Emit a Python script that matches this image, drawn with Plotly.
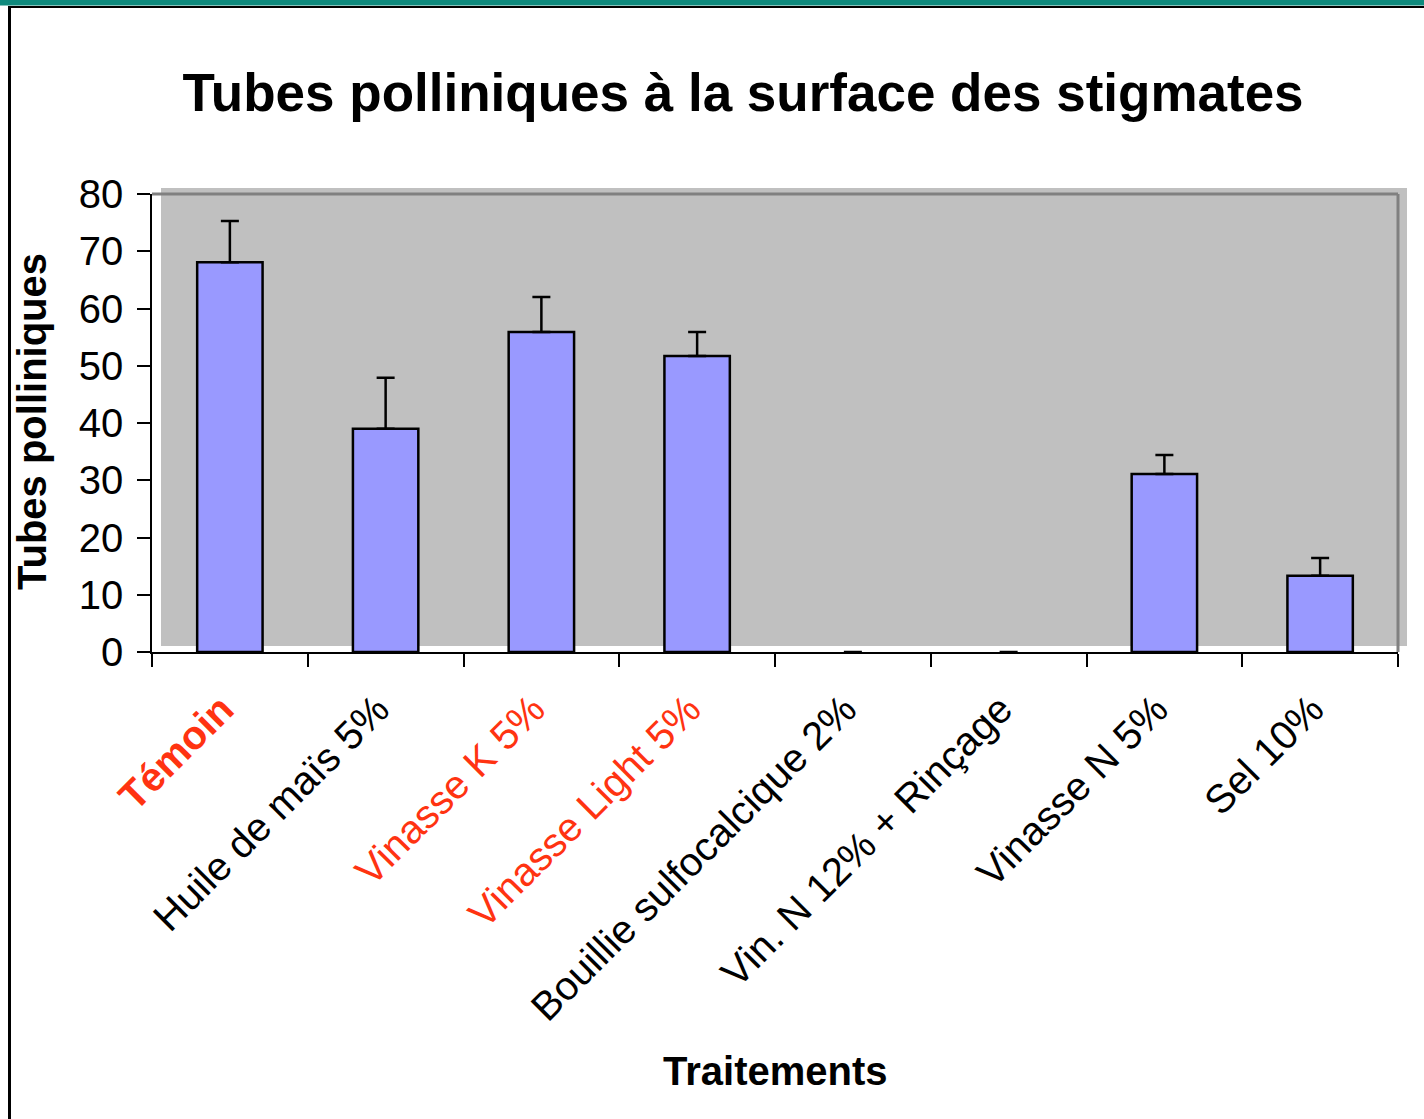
import plotly.graph_objects as go

categories = ["Témoin", "Huile de maïs 5%", "Vinasse K 5%", "Vinasse Light 5%",
              "Bouillie sulfocalcique 2%", "Vin. N 12% + Rinçage", "Vinasse N 5%", "Sel 10%"]
values = [68.1, 39.0, 55.9, 51.7, 0, 0, 31.1, 13.3]
errors = [7.2, 8.9, 6.1, 4.2, 0, 0, 3.3, 3.1]
tick_labels = ["<b>Témoin</b>", "Huile de maïs 5%", "Vinasse K 5%", "Vinasse Light 5%",
               "Bouillie sulfocalcique 2%", "Vin. N 12% + Rinçage", "Vinasse N 5%", "Sel 10%"]
label_colors = ["#FF3311", "black", "#FF3311", "#FF3311", "black", "black", "black", "black"]
y_ticks = [0, 10, 20, 30, 40, 50, 60, 70, 80]

W, H = 1424, 1119
L, R, T, B = 152, 1398, 194, 652

def px(x):
    return (x - L) / (R - L)

def py(y):
    return (B - y) / (B - T)

ticktext = [f"<span style='color:{c}'>{t}</span>" for t, c in zip(tick_labels, label_colors)]
outline_widths = [2.5 if v > 0 else 0 for v in values]

fig = go.Figure()
fig.add_trace(go.Bar(
    x=categories, y=values, width=0.42,
    marker=dict(color="#9999FF", line=dict(color="black", width=outline_widths)),
    error_y=dict(type="data", array=errors, arrayminus=[0]*len(errors), symmetric=False,
                 color="black", thickness=2.5, width=9),
))

shapes = [
    dict(type="rect", xref="paper", yref="paper", x0=px(161), x1=px(1407), y0=py(646), y1=py(188),
         fillcolor="#C0C0C0", line=dict(width=0), layer="below"),
    dict(type="line", xref="paper", yref="paper", x0=0, x1=1, y0=1, y1=1,
         line=dict(color="#808080", width=3), layer="below"),
    dict(type="line", xref="paper", yref="paper", x0=1, x1=1, y0=0, y1=1,
         line=dict(color="#808080", width=3), layer="below"),
    dict(type="rect", xref="paper", yref="paper", x0=px(0), x1=px(W), y0=py(0), y1=py(5.5),
         fillcolor="#0F8A7D", line=dict(width=0)),
    dict(type="line", xref="paper", yref="paper", x0=px(9), x1=px(W), y0=py(7), y1=py(7),
         line=dict(color="black", width=2)),
    dict(type="line", xref="paper", yref="paper", x0=px(9.5), x1=px(9.5), y0=py(6), y1=py(H),
         line=dict(color="black", width=3)),
]

fig.update_layout(
    width=W, height=H,
    margin=dict(l=L, r=W - R, t=T, b=H - B),
    paper_bgcolor="white", plot_bgcolor="white",
    font=dict(family="Liberation Sans, Arial, sans-serif", color="black"),
    showlegend=False,
    shapes=shapes,
    title=dict(text="<b>Tubes polliniques à la surface des stigmates</b>",
               x=743 / W, xref="container", xanchor="center",
               y=1 - 92 / H, yref="container", yanchor="middle",
               font=dict(size=53, color="black")),
    annotations=[
        dict(text="<b>Tubes polliniques</b>", xref="paper", yref="paper",
             x=px(32), y=py(422), xanchor="center", yanchor="middle",
             textangle=-90, showarrow=False, font=dict(size=40, color="black")),
        dict(text="<b>Traitements</b>", xref="paper", yref="paper",
             x=px(775), y=py(1071), xanchor="center", yanchor="middle",
             showarrow=False, font=dict(size=40, color="black")),
    ],
)

fig.update_xaxes(
    type="category", tickvals=categories, ticktext=ticktext, tickangle=-45,
    tickson="boundaries", ticks="outside", ticklen=13, tickwidth=1.5, tickcolor="black",
    showline=True, linecolor="black", linewidth=1.5, showgrid=False,
    tickfont=dict(size=40, color="black"), range=[-0.5, 7.5],
    ticklabelstandoff=16, ticklabelshift=-8,
)
fig.update_yaxes(
    range=[0, 80], tickvals=y_ticks, ticks="outside", ticklen=13, tickwidth=1.5,
    tickcolor="black", showline=True, linecolor="black", linewidth=1.5,
    showgrid=False, zeroline=False, tickfont=dict(size=40, color="black"),
    ticklabelstandoff=6,
)

fig.write_html("out.html", config={"displayModeBar": False},
               post_script="document.body.style.margin='0';document.body.style.padding='0';")
